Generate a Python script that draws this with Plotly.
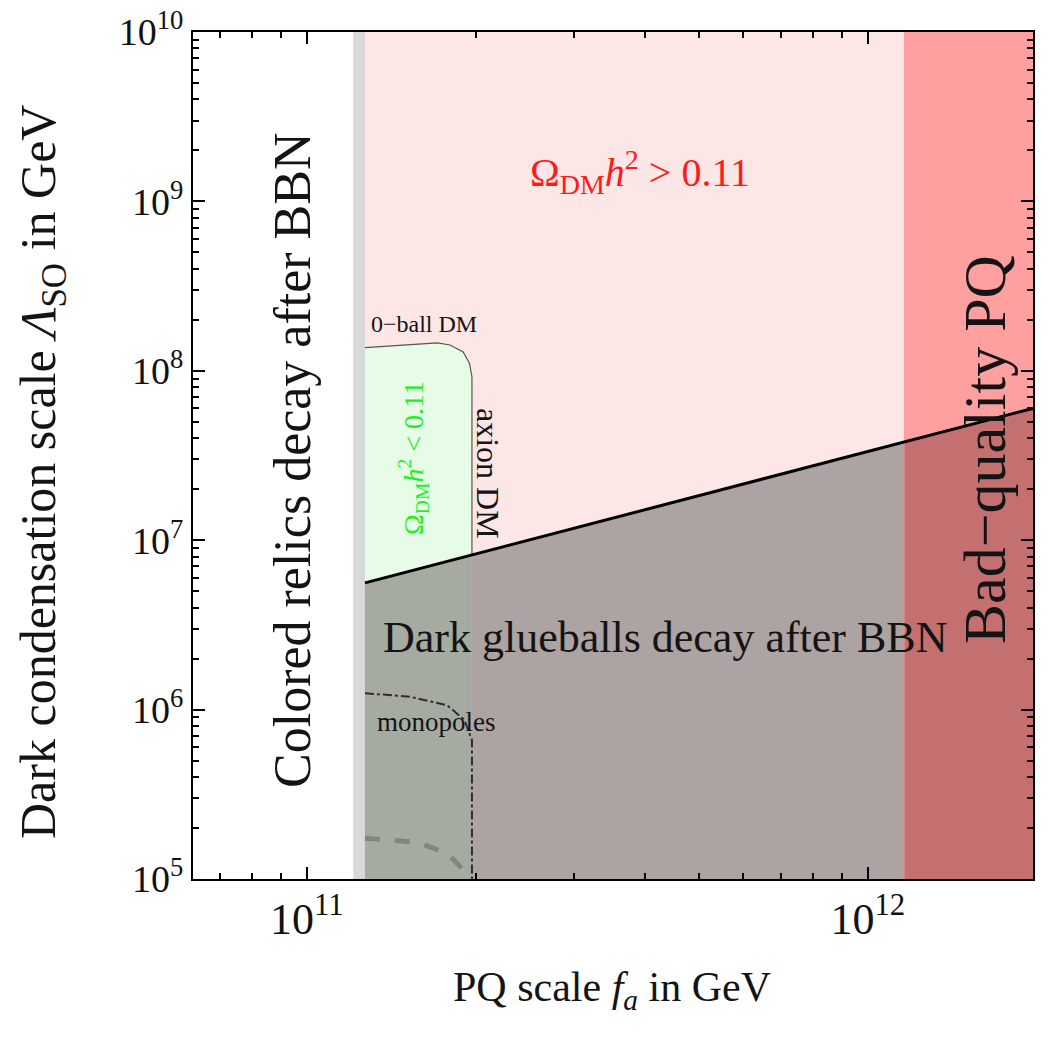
import numpy as np
import plotly.graph_objects as go

# ---------------- data (GeV) ----------------
FA_RANGE = [6.27e10, 1.97e12]          # PQ scale axis range
LAMBDA_RANGE = [1e5, 1e10]             # dark condensation scale axis range

FA_RELIC_EDGE = [1.21e11, 1.27e11]     # grey transition strip
FA_MIN = 1.27e11                       # coloured relics bound
FA_AXION = 1.97e11                     # axion DM boundary
FA_BADQ = 1.16e12                      # bad-quality PQ bound

# dark glueball BBN bound (straight line on log-log)
GLUE_FA = [1.27e11, 1.97e12]
GLUE_LAMBDA = [5.6e6, 6.0e7]

# Q-ball DM region upper/right boundary
QBALL_FA = [1.27e11, 1.71e11, 1.80e11, 1.90e11, 1.95e11, 1.97e11]
QBALL_LAMBDA = [1.37e8, 1.46e8, 1.42e8, 1.29e8, 1.11e8, 9.2e7]

# monopole contours
MONO_FA = [1.27e11, 1.53e11, 1.78e11, 1.91e11, 1.97e11, 1.97e11, 1.97e11]
MONO_LAMBDA = [1.25e6, 1.19e6, 1.06e6, 8.7e5, 6.6e5, 2.9e5, 1e5]
MONO2_FA = [1.27e11, 1.57e11, 1.78e11, 1.93e11, 1.97e11]
MONO2_LAMBDA = [1.74e5, 1.65e5, 1.42e5, 1.06e5, 1e5]

Y_TICKS = [1e5, 1e6, 1e7, 1e8, 1e9, 1e10]
Y_TICKTEXT = ["10<sup>5</sup>", "10<sup>6</sup>", "10<sup>7</sup>", "10<sup>8</sup>",
              "10<sup>9</sup>", "10<sup>10</sup>"]
X_TICKS = [1e11, 1e12]
X_TICKTEXT = ["10<sup>11</sup>", "10<sup>12</sup>"]


def glue(fa):
    """Glueball bound evaluated on the log-log straight line."""
    lx = np.log10(GLUE_FA)
    ly = np.log10(GLUE_LAMBDA)
    return 10 ** np.interp(np.log10(fa), lx, ly)


YMIN, YMAX = LAMBDA_RANGE
FMIN, FMAX = FA_RANGE

fig = go.Figure()


def region(xs, ys, color):
    fig.add_trace(go.Scatter(x=xs, y=ys, fill="toself", fillcolor=color,
                             mode="lines", line=dict(width=0, color=color),
                             hoverinfo="skip", showlegend=False))


# background regions
region([FA_RELIC_EDGE[0], FA_RELIC_EDGE[1], FA_RELIC_EDGE[1], FA_RELIC_EDGE[0]],
       [YMIN, YMIN, YMAX, YMAX], "#d9d9d9")
region([FA_MIN, FA_BADQ, FA_BADQ, FA_MIN], [YMIN, YMIN, YMAX, YMAX], "#fde6e6")
region([FA_BADQ, FMAX, FMAX, FA_BADQ], [YMIN, YMIN, YMAX, YMAX], "#ffa0a0")

# glueball excluded regions
region([FA_MIN, FA_AXION, FA_AXION, FA_MIN],
       [YMIN, YMIN, glue(FA_AXION), glue(FA_MIN)], "#a6aba1")
region([FA_AXION, FA_BADQ, FA_BADQ, FA_AXION],
       [YMIN, YMIN, glue(FA_BADQ), glue(FA_AXION)], "#ada3a3")
region([FA_BADQ, FMAX, FMAX, FA_BADQ],
       [YMIN, YMIN, glue(FMAX), glue(FA_BADQ)], "#c47070")

# Q-ball region
qx = QBALL_FA + [FA_AXION, FA_MIN]
qy = QBALL_LAMBDA + [glue(FA_AXION), glue(FA_MIN)]
region(qx, qy, "#e7fce7")
fig.add_trace(go.Scatter(x=QBALL_FA + [FA_AXION], y=QBALL_LAMBDA + [glue(FA_AXION)],
                         mode="lines", line=dict(color="#555555", width=1.2),
                         hoverinfo="skip", showlegend=False))

# boundary of bad-quality region below the line
fig.add_trace(go.Scatter(x=[FA_BADQ, FA_BADQ], y=[YMIN, glue(FA_BADQ)],
                         mode="lines", line=dict(color="#f08a8a", width=1.5),
                         hoverinfo="skip", showlegend=False))

# monopole contours
fig.add_trace(go.Scatter(x=MONO2_FA, y=MONO2_LAMBDA, mode="lines",
                         line=dict(color="#7f887f", width=5, dash="dash"),
                         hoverinfo="skip", showlegend=False))
fig.add_trace(go.Scatter(x=MONO_FA, y=MONO_LAMBDA, mode="lines",
                         line=dict(color="#2e2e2e", width=2, dash="dashdot"),
                         hoverinfo="skip", showlegend=False))

# glueball bound line
fig.add_trace(go.Scatter(x=GLUE_FA, y=GLUE_LAMBDA, mode="lines",
                         line=dict(color="black", width=3),
                         hoverinfo="skip", showlegend=False))

SERIF = "Liberation Serif, Times New Roman, serif"

Y_MINOR = [k * 10 ** n for n in range(5, 10) for k in range(2, 10)]
X_MINOR = [7e10, 8e10, 9e10] + [k * 1e11 for k in range(2, 10)]

fig.update_xaxes(type="log", range=[np.log10(FMIN), np.log10(FMAX)],
                 tickvals=X_TICKS, ticktext=X_TICKTEXT, automargin=False,
                 ticks="inside", ticklen=12, tickwidth=2, tickcolor="black",
                 showline=True, linecolor="black", linewidth=2, mirror="ticks",
                 showgrid=False, zeroline=False, ticklabeloverflow="allow",
                 tickfont=dict(family=SERIF, size=44, color="#111111"),
                 minor=dict(tickvals=X_MINOR, ticks="inside", ticklen=6,
                            tickwidth=1.5, tickcolor="black", showgrid=False))
fig.update_yaxes(type="log", range=[np.log10(YMIN), np.log10(YMAX)],
                 tickvals=Y_TICKS, ticktext=Y_TICKTEXT, automargin=False,
                 ticks="inside", ticklen=12, tickwidth=2, tickcolor="black",
                 showline=True, linecolor="black", linewidth=2, mirror="ticks",
                 showgrid=False, zeroline=False, ticklabeloverflow="allow",
                 tickfont=dict(family=SERIF, size=38, color="#111111"),
                 minor=dict(tickvals=Y_MINOR, ticks="inside", ticklen=6,
                            tickwidth=1.5, tickcolor="black", showgrid=False))

# page offset compensation (the html body adds a small margin)
OFF = 8
W, H = 1051 - OFF, 1041 - OFF
L, T = 193 - OFF, 32 - OFF
PW, PH = 840, 847
R, B = W - L - PW, H - T - PH


def px(x, y):
    # x, y in target-picture pixels -> paper coordinates
    return (x - OFF - L) / PW, ((T + PH + OFF) - y) / PH


def note(text, x, y, size, color="#141414", angle=0):
    ax, ay = px(x, y)
    fig.add_annotation(text=text, x=ax, y=ay, xref="paper", yref="paper",
                       showarrow=False, textangle=angle,
                       font=dict(family=SERIF, size=size, color=color),
                       xanchor="center", yanchor="middle")


note("Colored relics decay after BBN", 292, 460, 52, angle=-90)
note("Ω<sub>DM</sub><i>h</i><sup>2</sup> &gt; 0.11", 640, 172, 40, color="#ff1a1a")
note("0−ball DM", 424, 324, 24)
note("Ω<sub>DM</sub><i>h</i><sup>2</sup> &lt; 0.11", 413, 458, 28, color="#22ee22", angle=-90)
note("axion DM", 488, 473, 32, angle=90)
note("Dark glueballs decay after BBN", 665, 637, 44)
note("monopoles", 436, 722, 27)
note("Bad−quality PQ", 985, 450, 60, angle=-90)
note("PQ scale <i>f<sub>a</sub></i> in GeV", 612, 990, 42)
note("Dark condensation scale <i>Λ</i><sub>SO</sub> in GeV", 42, 472, 50, angle=-90)

fig.update_layout(width=W, height=H, margin=dict(l=L, r=R, t=T, b=B, autoexpand=False),
                  plot_bgcolor="white", paper_bgcolor="white", showlegend=False)

fig.write_html("out.html")
